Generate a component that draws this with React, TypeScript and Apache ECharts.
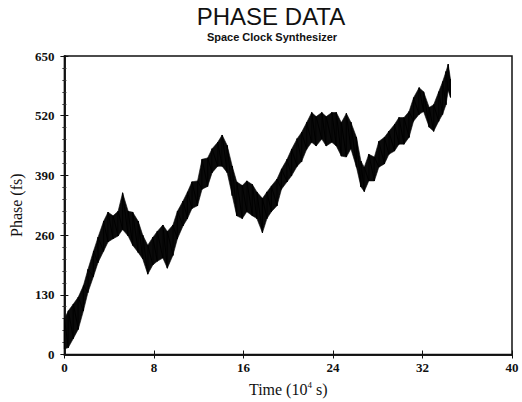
import React, { useEffect, useRef } from "react";
import * as echarts from "echarts";

// Time (10^4 s) sample positions
const timeValues = [
  0.0, 0.35, 0.8, 1.24, 1.7, 2.1, 2.6, 3.0, 3.5, 3.9, 4.35, 4.8, 5.2, 5.7, 6.1, 6.6,
  7.0, 7.45, 7.9, 8.3, 8.8, 9.2, 9.7, 10.1, 10.6, 11.0, 11.4, 11.9, 12.3, 12.8, 13.2,
  13.7, 14.1, 14.55, 15.0, 15.4, 15.9, 16.3, 16.8, 17.2, 17.7, 18.1, 18.5, 19.0, 19.4,
  19.9, 20.3, 20.8, 21.2, 21.65, 22.1, 22.5, 23.0, 23.4, 23.9, 24.3, 24.75, 25.2, 25.6,
  26.1, 26.5, 26.8, 27.2, 27.7, 28.1, 28.6, 29.0, 29.5, 29.9, 30.35, 30.8, 31.2, 31.7,
  32.1, 32.6, 33.0, 33.45, 33.8, 34.1, 34.3, 34.5,
];
// Lower edge of the noisy phase band (fs)
const phaseLow = [
  12, 15, 35, 55, 95, 135, 170, 200, 225, 245, 252, 258, 272, 258, 238, 222,
  208, 175, 195, 203, 210, 188, 216, 252, 280, 296, 318, 324, 360, 366, 396,
  410, 410, 396, 346, 302, 296, 311, 302, 296, 265, 296, 311, 324, 360,
  376, 389, 410, 420, 447, 462, 454, 469, 454, 462, 454, 432, 430, 448,
  408, 365, 355, 378, 378, 408, 415, 436, 443, 458, 458, 473, 508, 523,
  529, 495, 486, 508, 523, 544, 575, 560,
];
// Upper edge of the noisy phase band (fs)
const phaseHigh = [
  78, 95, 110, 125, 150, 185, 225, 255, 290, 310, 302, 312, 352, 312, 310, 290,
  260, 238, 255, 268, 282, 268, 282, 312, 334, 354, 376, 378, 425, 428, 448,
  462, 478, 455, 410, 376, 368, 378, 370, 354, 340, 354, 367, 382, 404,
  425, 447, 470, 484, 505, 527, 518, 527, 518, 527, 527, 505, 525, 506,
  473, 421, 408, 436, 430, 464, 473, 486, 501, 516, 516, 529, 559, 581,
  572, 538, 544, 572, 594, 616, 632, 600,
];
const xTicks = [0, 8, 16, 24, 32, 40];
const yTicks = [0, 130, 260, 390, 520, 650];

const SERIF = "'Liberation Serif', 'DejaVu Serif', serif";
const SANS = "'Liberation Sans', Arial, sans-serif";

export default function App() {
  const ref = useRef<HTMLDivElement>(null);
  useEffect(() => {
    if (!ref.current) return;
    const chart = echarts.init(ref.current, undefined, { renderer: "svg" });
    // one band segment per consecutive pair of samples
    const segments = timeValues.slice(0, -1).map((t, i) => [
      t, phaseLow[i], phaseHigh[i], timeValues[i + 1], phaseLow[i + 1], phaseHigh[i + 1],
    ]);
    const zigzag: number[][] = [];
    timeValues.forEach((t, i) => {
      zigzag.push([t, phaseLow[i]]);
      zigzag.push([t, phaseHigh[i]]);
    });
    const axisLabel = { fontFamily: SERIF, fontSize: 13, fontWeight: "bold" as const, color: "#111" };
    const axisCommon = {
      axisLine: { show: true, lineStyle: { color: "#111", width: 1.5 } },
      axisTick: { show: true, inside: true, length: 4, lineStyle: { color: "#111" } },
      splitLine: { show: false },
    };
    chart.setOption({
      animation: false,
      backgroundColor: "#fff",
      graphic: [
        {
          type: "text",
          x: 271,
          y: 4,
          style: { text: "PHASE DATA", font: `24px ${SANS}`, fill: "#111", align: "center", verticalAlign: "top" },
        },
        {
          type: "text",
          x: 272,
          y: 31,
          style: { text: "Space Clock Synthesizer", font: `bold 11px ${SANS}`, fill: "#111", align: "center", verticalAlign: "top" },
        },
      ],
      grid: { left: 61, right: 10, top: 56, bottom: 45, show: true, borderColor: "#111", borderWidth: 1.5 },
      xAxis: [
        {
          type: "value",
          min: xTicks[0],
          max: xTicks[xTicks.length - 1],
          interval: 8,
          name: "Time (10{sup|4} s)",
          nameLocation: "middle",
          nameGap: 26,
          nameTextStyle: {
            fontFamily: SERIF,
            fontSize: 16,
            color: "#111",
            rich: { sup: { fontFamily: SERIF, fontSize: 9, verticalAlign: "top", padding: [0, 0, 8, 0] } },
          },
          ...axisCommon,
          axisLabel: { ...axisLabel, margin: 6 },
        },
        {
          type: "value",
          position: "top",
          min: xTicks[0],
          max: xTicks[xTicks.length - 1],
          interval: 8,
          ...axisCommon,
          axisLabel: { show: false },
        },
      ],
      yAxis: [
        {
          type: "value",
          min: yTicks[0],
          max: yTicks[yTicks.length - 1],
          interval: 130,
          name: "Phase (fs)",
          nameLocation: "middle",
          nameGap: 38,
          nameTextStyle: { fontFamily: SERIF, fontSize: 16, color: "#111" },
          ...axisCommon,
          minorTick: { show: true, splitNumber: 5, length: 2, lineStyle: { color: "#333" } },
          axisLabel: { ...axisLabel, margin: 10 },
        },
        {
          type: "value",
          position: "right",
          min: yTicks[0],
          max: yTicks[yTicks.length - 1],
          interval: 130,
          ...axisCommon,
          minorTick: { show: true, splitNumber: 5, length: 2, lineStyle: { color: "#333" } },
          axisLabel: { show: false },
        },
      ],
      series: [
        {
          type: "custom",
          silent: true,
          data: segments,
          encode: { x: [0, 3], y: [1, 2, 4, 5] },
          renderItem: (params: any, api: any) => {
            const a = api.coord([api.value(0), api.value(1)]);
            const b = api.coord([api.value(0), api.value(2)]);
            const c = api.coord([api.value(3), api.value(5)]);
            const d = api.coord([api.value(3), api.value(4)]);
            return {
              type: "polygon",
              shape: { points: [a, b, c, d] },
              style: { fill: "#0a0a0a", stroke: "#0a0a0a", lineWidth: 0.6 },
            };
          },
        },
        {
          type: "line",
          data: zigzag,
          showSymbol: false,
          lineStyle: { color: "#000", width: 1 },
          silent: true,
        },
      ],
    });
    return () => chart.dispose();
  }, []);
  return <div ref={ref} style={{ width: 522, height: 402, position: "absolute", left: 0, top: 0 }} />;
}
